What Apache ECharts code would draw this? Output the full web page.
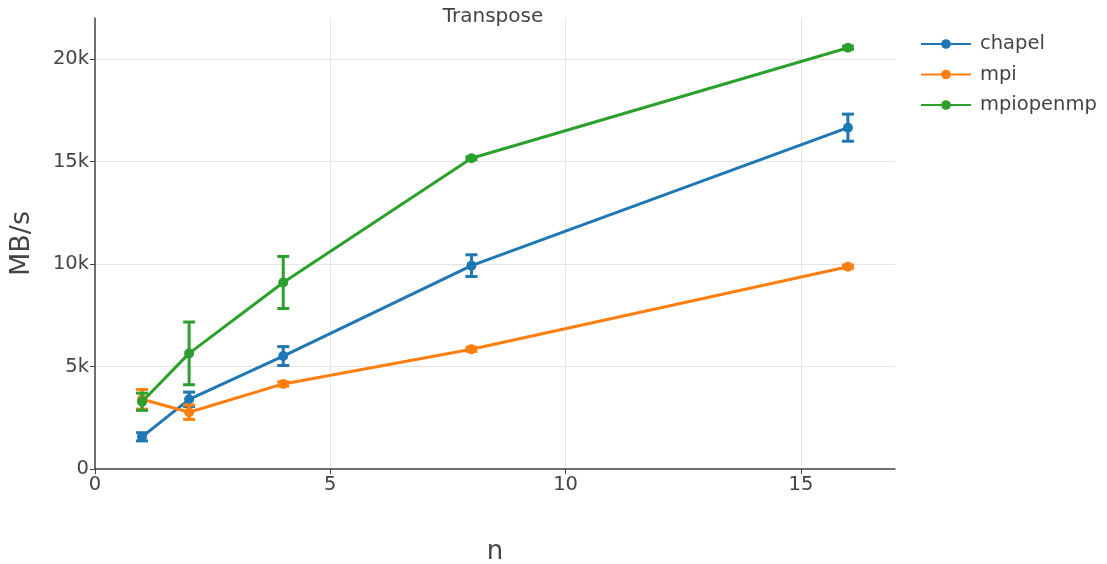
<!DOCTYPE html>
<html><head><meta charset="utf-8">
<script src="https://cdn.jsdelivr.net/npm/echarts@6/dist/echarts.min.js"></script>
<style>html,body{margin:0;padding:0;background:#fff}#c{width:1107px;height:564px}</style>
</head><body><div id="c"></div>
<script>
var nValues = [1, 2, 4, 8, 16];
var seriesNames = ['chapel', 'mpi', 'mpiopenmp'];
var colors = ['#1f77b4', '#ff7f0e', '#2ca02c'];
var chapelMean = [1570, 3400, 5510, 9920, 16650];
var chapelErr  = [200, 350, 460, 530, 660];
var mpiMean = [3400, 2770, 4150, 5840, 9870];
var mpiErr  = [480, 350, 100, 100, 80];
var mpiopenmpMean = [3280, 5640, 9100, 15160, 20550];
var mpiopenmpErr  = [420, 1530, 1270, 70, 80];
var xTicks = [0, 5, 10, 15];
var yTicks = [0, 5000, 10000, 15000, 20000];

var means = [chapelMean, mpiMean, mpiopenmpMean];
var errs = [chapelErr, mpiErr, mpiopenmpErr];
var font = '"DejaVu Sans", sans-serif';

var series = [];
seriesNames.forEach(function (name, i) {
  series.push({
    name: name + ' err', type: 'custom', z: 3 + i * 2,
    data: nValues.map(function (x, k) { return [x, means[i][k] - errs[i][k], means[i][k] + errs[i][k]]; }),
    renderItem: function (params, api) {
      var lo = api.coord([api.value(0), api.value(1)]);
      var hi = api.coord([api.value(0), api.value(2)]);
      var w = 6;
      var st = { stroke: colors[i], lineWidth: 3, fill: null };
      return { type: 'group', children: [
        { type: 'line', shape: { x1: lo[0], y1: lo[1], x2: hi[0], y2: hi[1] }, style: st },
        { type: 'line', shape: { x1: lo[0] - w, y1: lo[1], x2: lo[0] + w, y2: lo[1] }, style: st },
        { type: 'line', shape: { x1: hi[0] - w, y1: hi[1], x2: hi[0] + w, y2: hi[1] }, style: st }
      ]};
    },
    silent: true
  });
  series.push({
    name: name, type: 'line', z: 4 + i * 2,
    data: nValues.map(function (x, k) { return [x, means[i][k]]; }),
    symbol: 'circle', symbolSize: 10,
    lineStyle: { color: colors[i], width: 3 },
    itemStyle: { color: colors[i] },
    animation: false
  });
});

var chart = echarts.init(document.getElementById('c'));
chart.setOption({
  animation: false,
  color: colors,
  title: { text: 'Transpose', left: 493, top: 7, textAlign: 'center', padding: 0,
    textStyle: { fontFamily: font, fontSize: 20, fontWeight: 'normal', color: '#444' } },
  legend: {
    data: seriesNames, orient: 'vertical', left: 920, top: 34, padding: 0,
    itemWidth: 50, itemHeight: 12, itemGap: 10.5,
    textStyle: { fontFamily: font, fontSize: 19.5, color: '#444', padding: [0, 0, 0, 4] }
  },
  grid: { left: 95, right: 212, top: 18, bottom: 95, containLabel: false, outerBoundsMode: 'none' },
  xAxis: {
    type: 'value', min: 0, max: 17,
    name: 'n', nameLocation: 'middle', nameGap: 70,
    nameTextStyle: { fontFamily: font, fontSize: 26, color: '#444' },
    axisLine: { show: true, lineStyle: { color: '#444', width: 1.5 } },
    axisTick: { show: true, length: 5, lineStyle: { color: '#444' }, customValues: xTicks },
    axisLabel: { fontFamily: font, fontSize: 19.5, color: '#444', margin: 6, customValues: xTicks },
    splitLine: { show: true, lineStyle: { color: '#e5e5e5', width: 1 } }
  },
  yAxis: {
    type: 'value', min: 0, max: 22000,
    name: 'MB/s', nameLocation: 'middle', nameGap: 60, nameRotate: 90,
    nameTextStyle: { fontFamily: font, fontSize: 27, color: '#444' },
    axisLine: { show: true, lineStyle: { color: '#444', width: 1.5 } },
    axisTick: { show: true, length: 5, lineStyle: { color: '#444' }, customValues: yTicks },
    axisLabel: { fontFamily: font, fontSize: 19.5, color: '#444', margin: 6, customValues: yTicks,
      formatter: function (v) { return v === 0 ? '0' : (v / 1000) + 'k'; } },
    splitLine: { show: true, lineStyle: { color: '#e5e5e5', width: 1 } }
  },
  series: series
});
</script></body></html>
